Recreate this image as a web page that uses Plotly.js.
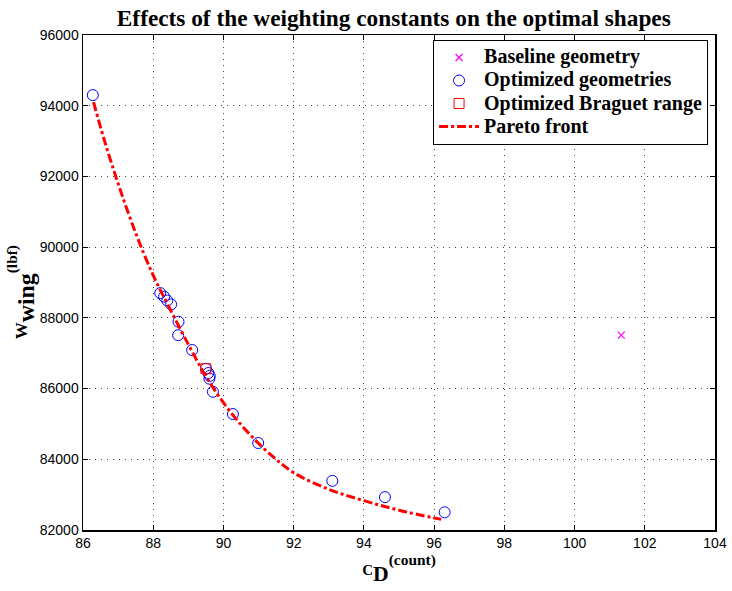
<!DOCTYPE html>
<html>
<head>
<meta charset="utf-8">
<script src="https://cdn.plot.ly/plotly-3.0.1.min.js"></script>
<style>html,body{margin:0;padding:0;background:#fff;}#chart{width:732px;height:591px;}</style>
</head>
<body>
<div id="chart"></div>
<script>
// Baseline geometry
const baselineCD = [101.33];
const baselineW = [87510];

// Optimized geometries
const optCD = [86.28, 88.20, 88.31, 88.40, 88.51, 88.72, 88.71, 89.11, 89.50, 89.57, 89.61, 89.60, 89.70, 90.27, 90.99, 93.10, 94.60, 96.30];
const optW  = [94300, 88700, 88600, 88490, 88380, 87890, 87510, 87090, 86560, 86440, 86360, 86280, 85910, 85280, 84460, 83390, 82930, 82500];

// Optimized Braguet range
const braguetCD = [89.50];
const braguetW = [86560];

// Pareto front
const paretoCD = [86.3, 86.6, 87.0, 87.5, 88.0, 88.4, 89.0, 89.5, 90.0, 90.5, 91.0, 91.5, 92.0, 93.0, 94.0, 95.0, 96.2];
const paretoW  = [94100, 93050, 91800, 90400, 89200, 88400, 87250, 86350, 85600, 84980, 84450, 84000, 83620, 83150, 82830, 82560, 82300];

const xTicks = [86, 88, 90, 92, 94, 96, 98, 100, 102, 104];
const yTicks = [82000, 84000, 86000, 88000, 90000, 92000, 94000, 96000];

const traces = [
  {x: baselineCD, y: baselineW, type: 'scatter', mode: 'markers', name: 'Baseline geometry',
   marker: {symbol: 'x-thin-open', size: 7, color: '#ff00ff', line: {color: '#ff00ff', width: 1.2}}},
  {x: optCD, y: optW, type: 'scatter', mode: 'markers', name: 'Optimized geometries',
   marker: {symbol: 'circle-open', size: 11, color: '#0000ff', line: {color: '#0000ff', width: 1}}},
  {x: braguetCD, y: braguetW, type: 'scatter', mode: 'markers', name: 'Optimized Braguet range',
   marker: {symbol: 'square-open', size: 10, color: '#ff0000', line: {color: '#ff0000', width: 1}}},
  {x: paretoCD, y: paretoW, type: 'scatter', mode: 'lines', name: 'Pareto front', line: {shape: 'spline', smoothing: 1,
   color: '#ff0000', width: 3, dash: 'dashdot'}}
];

const axisCommon = {
  showline: true, linecolor: '#000', linewidth: 1.5, mirror: 'ticks',
  ticks: 'inside', ticklen: 5, tickcolor: '#000', tickwidth: 1,
  showgrid: true, gridcolor: '#444', griddash: '1px,5px', gridwidth: 1,
  zeroline: false,
  tickfont: {family: 'Liberation Sans, Arial, sans-serif', size: 14, color: '#000'}
};

const serif = 'Liberation Serif, Times New Roman, serif';

const layout = {
  width: 732, height: 591,
  margin: {l: 83, r: 17, t: 35, b: 61},
  paper_bgcolor: '#fff', plot_bgcolor: '#fff',
  title: {text: '<b>Effects of the weighting constants on the optimal shapes</b>',
    font: {family: serif, size: 23.3, color: '#000'},
    x: 0.538, xanchor: 'center', y: 0.969, yanchor: 'middle'},
  xaxis: Object.assign({}, axisCommon, {range: [86, 104], tickvals: xTicks, ticktext: xTicks.map(String),
    title: {text: '<b>C<span style="font-size:31px"><sub>D</sub></span><span style="font-size:22px"><sup>(count)</sup></span></b>', standoff: 7,
      font: {family: serif, size: 15, color: '#000'}}}),
  yaxis: Object.assign({}, axisCommon, {range: [82000, 96000], tickvals: yTicks, ticktext: yTicks.map(String),
    title: {text: '<b>W<span style="font-size:34px"><sub>wing</sub></span><span style="font-size:22px"><sup>(lbf)&nbsp;&nbsp;&nbsp;&nbsp;&nbsp;</sup></span></b>', standoff: 8,
      font: {family: serif, size: 17, color: '#000'}}}),
  showlegend: true,
  legend: {x: 0.989, xanchor: 'right', y: 0.99, yanchor: 'top',
    bgcolor: '#fff', bordercolor: '#000', borderwidth: 1,
    font: {family: serif, size: 15.4, color: '#000'},
    itemwidth: 40, tracegroupgap: 0}
};

traces.forEach(t => { t.name = '<span style="font-size:20px"><b>' + t.name + '</b></span>'; });

Plotly.newPlot('chart', traces, layout, {displayModeBar: false, staticPlot: true});
</script>
</body>
</html>
